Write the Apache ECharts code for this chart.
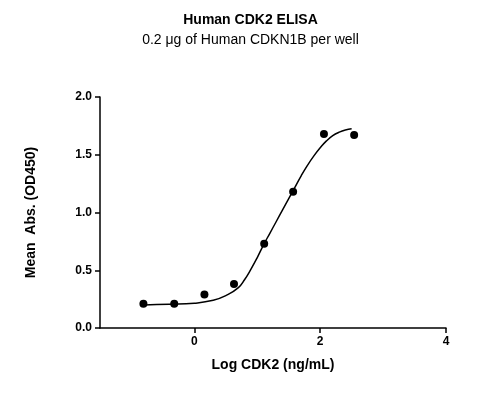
<!DOCTYPE html><html><head><meta charset="utf-8"><script src="https://cdn.jsdelivr.net/npm/echarts@6/dist/echarts.min.js"></script></head><body style="margin:0"><div id="c" style="width:501px;height:400px"></div><script>
var pointsX=[-0.81,-0.32,0.16,0.63,1.11,1.57,2.06,2.54];
var pointsY=[0.21,0.21,0.29,0.38,0.73,1.18,1.68,1.67];
var curveX=[-0.8,-0.4,0,0.3,0.5,0.7,0.8,0.9,1.0,1.1,1.2,1.3,1.4,1.5,1.6,1.7,1.8,1.9,2.0,2.1,2.2,2.3,2.4,2.5];
var curveY=[0.2,0.205,0.215,0.24,0.28,0.35,0.42,0.51,0.61,0.72,0.82,0.92,1.02,1.12,1.22,1.32,1.41,1.49,1.56,1.62,1.665,1.695,1.715,1.725];
var c=echarts.init(document.getElementById('c'));
var f='Arial, Liberation Sans, sans-serif';
c.setOption({animation:false,
title:{text:'Human CDK2 ELISA',subtext:'0.2 μg of Human CDKN1B per well',left:'center',top:8,itemGap:6,
textStyle:{fontFamily:f,fontSize:14,fontWeight:'bold',color:'#000'},subtextStyle:{fontFamily:f,fontSize:14,color:'#000'}},
grid:{left:100,right:55,top:97,bottom:72},
xAxis:{type:'value',min:-1.5,max:4,name:'Log CDK2 (ng/mL)',nameLocation:'middle',nameGap:30,
nameTextStyle:{fontFamily:f,fontSize:14,fontWeight:'bold',color:'#000'},
axisLine:{onZero:false,lineStyle:{color:'#000',width:1.5}},splitLine:{show:false},
axisLabel:{fontFamily:f,fontSize:12,fontWeight:'bold',color:'#000',customValues:[0,2,4]},
axisTick:{customValues:[0,2,4],lineStyle:{width:1.5}}},
yAxis:{type:'value',min:0,max:2,interval:0.5,name:'Mean  Abs. (OD450)',nameLocation:'middle',nameGap:62,
nameTextStyle:{fontFamily:f,fontSize:14,fontWeight:'bold',color:'#000'},
axisLine:{show:true,onZero:false,lineStyle:{color:'#000',width:1.5}},axisTick:{show:true,lineStyle:{width:1.5}},splitLine:{show:false},
axisLabel:{fontFamily:f,fontSize:12,fontWeight:'bold',color:'#000',formatter:function(v){return v.toFixed(1)}}},
series:[{type:'line',data:curveX.map(function(x,i){return [x,curveY[i]]}),smooth:true,showSymbol:false,lineStyle:{color:'#000',width:1.5}},
{type:'scatter',data:pointsX.map(function(x,i){return [x,pointsY[i]]}),symbolSize:8,itemStyle:{color:'#000',opacity:1}}]});
</script></body></html>
